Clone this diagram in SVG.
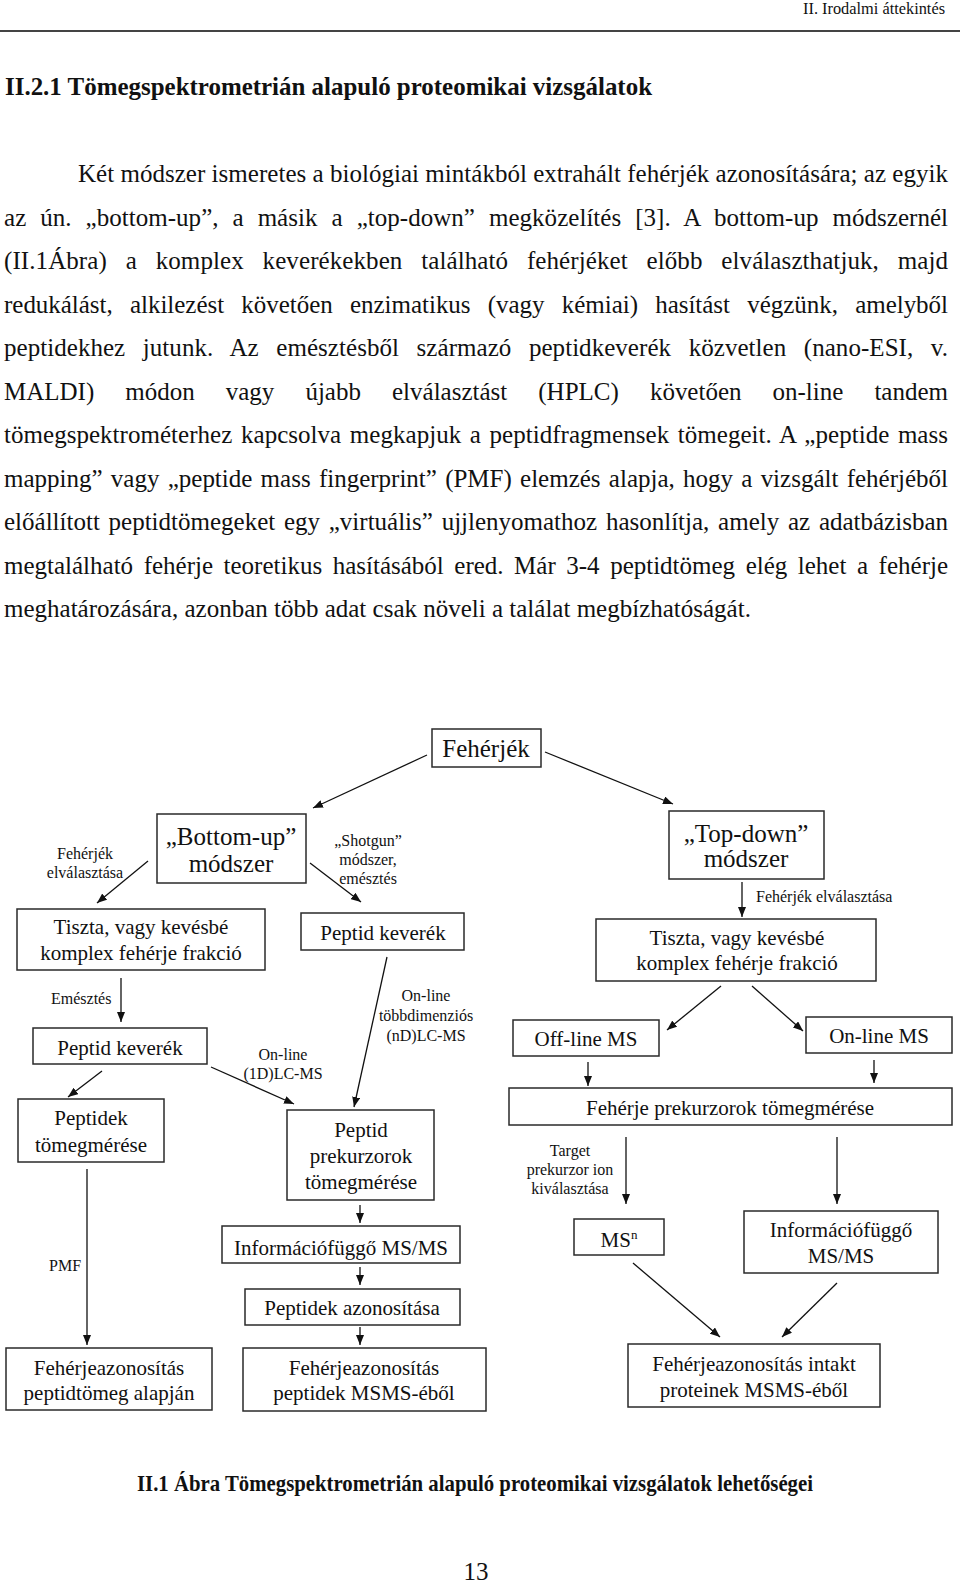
<svg xmlns="http://www.w3.org/2000/svg" width="960" height="1585" viewBox="0 0 960 1585">
<defs>
<style>
text{font-family:"Liberation Serif","Times New Roman",serif;fill:#111}
.body{font-size:25px}
.bx rect{fill:#fff;stroke:#2a2a2a;stroke-width:1.5}
.bx text{font-size:21px;text-anchor:middle}
.big text{font-size:25px}
.lbl{font-size:16px;text-anchor:middle}
.lbs{font-size:16px}
#conn line{stroke:#111;stroke-width:1.3;marker-end:url(#ah)}
</style>
<marker id="ah" viewBox="0 0 10 8" refX="10" refY="4" markerWidth="10" markerHeight="8" markerUnits="userSpaceOnUse" orient="auto"><path d="M0,0 L10,4 L0,8 z" fill="#111"/></marker>
</defs>
<rect width="960" height="1585" fill="#fff"/>
<g id="header">
<text x="945" y="14" font-size="17" text-anchor="end" textLength="142" lengthAdjust="spacingAndGlyphs">II. Irodalmi áttekintés</text>
<line x1="0" y1="31" x2="960" y2="31" stroke="#444" stroke-width="2"/>
<text x="5" y="95" font-size="26" font-weight="bold" textLength="647" lengthAdjust="spacingAndGlyphs">II.2.1 Tömegspektrometrián alapuló proteomikai vizsgálatok</text>
</g>
<g id="paragraph">
<text class="body" x="78" y="182" textLength="870" lengthAdjust="spacing">Két módszer ismeretes a biológiai mintákból extrahált fehérjék azonosítására; az egyik</text>
<text class="body" x="4" y="225.5" word-spacing="7.7" textLength="944" lengthAdjust="spacing">az ún. „bottom-up”, a másik a „top-down” megközelítés [3]. A bottom-up módszernél</text>
<text class="body" x="4" y="269" word-spacing="12.5" textLength="944" lengthAdjust="spacing">(II.1Ábra) a komplex keverékekben található fehérjéket előbb elválaszthatjuk, majd</text>
<text class="body" x="4" y="312.5" word-spacing="11" textLength="944" lengthAdjust="spacing">redukálást, alkilezést követően enzimatikus (vagy kémiai) hasítást végzünk, amelyből</text>
<text class="body" x="4" y="356" word-spacing="11.3" textLength="944" lengthAdjust="spacing">peptidekhez jutunk. Az emésztésből származó peptidkeverék közvetlen (nano-ESI, v.</text>
<text class="body" x="4" y="399.5" word-spacing="24.8" textLength="944" lengthAdjust="spacing">MALDI) módon vagy újabb elválasztást (HPLC) követően on-line tandem</text>
<text class="body" x="4" y="443" word-spacing="2.3" textLength="944" lengthAdjust="spacing">tömegspektrométerhez kapcsolva megkapjuk a peptidfragmensek tömegeit. A „peptide mass</text>
<text class="body" x="4" y="486.5" word-spacing="2" textLength="944" lengthAdjust="spacing">mapping” vagy „peptide mass fingerprint” (PMF) elemzés alapja, hogy a vizsgált fehérjéből</text>
<text class="body" x="4" y="530" word-spacing="2.5" textLength="944" lengthAdjust="spacing">előállított peptidtömegeket egy „virtuális” ujjlenyomathoz hasonlítja, amely az adatbázisban</text>
<text class="body" x="4" y="573.5" word-spacing="4.3" textLength="944" lengthAdjust="spacing">megtalálható fehérje teoretikus hasításából ered. Már 3-4 peptidtömeg elég lehet a fehérje</text>
<text class="body" x="4" y="617">meghatározására, azonban több adat csak növeli a találat megbízhatóságát.</text>
</g>
<g id="conn">
<line x1="427" y1="755" x2="313" y2="808"/>
<line x1="545" y1="752" x2="673" y2="804"/>
<line x1="148" y1="861" x2="97" y2="903"/>
<line x1="310" y1="863" x2="361" y2="902"/>
<line x1="742" y1="882" x2="742" y2="917"/>
<line x1="121" y1="978" x2="121" y2="1022"/>
<line x1="102" y1="1071" x2="68" y2="1097"/>
<line x1="211" y1="1067" x2="294" y2="1104"/>
<line x1="387" y1="957" x2="354" y2="1107"/>
<line x1="87" y1="1169" x2="87" y2="1345"/>
<line x1="360" y1="1205" x2="360" y2="1223"/>
<line x1="360" y1="1267" x2="360" y2="1285"/>
<line x1="360" y1="1327" x2="360" y2="1345"/>
<line x1="721" y1="986" x2="667" y2="1030"/>
<line x1="752" y1="986" x2="803" y2="1031"/>
<line x1="588" y1="1062" x2="588" y2="1086"/>
<line x1="874" y1="1060" x2="874" y2="1083"/>
<line x1="626" y1="1137" x2="626" y2="1204"/>
<line x1="837" y1="1137" x2="837" y2="1204"/>
<line x1="633" y1="1263" x2="720" y2="1337"/>
<line x1="837" y1="1283" x2="782" y2="1337"/>
</g>
<g id="labels">
<text class="lbl" x="85" y="859">Fehérjék</text>
<text class="lbl" x="85" y="878">elválasztása</text>
<text class="lbl" x="368" y="846">„Shotgun”</text>
<text class="lbl" x="368" y="865">módszer,</text>
<text class="lbl" x="368" y="884">emésztés</text>
<text class="lbs" x="756" y="902">Fehérjék elválasztása</text>
<text class="lbs" x="51" y="1004">Emésztés</text>
<text class="lbl" x="283" y="1060">On-line</text>
<text class="lbl" x="283" y="1079">(1D)LC-MS</text>
<text class="lbl" x="426" y="1001">On-line</text>
<text class="lbl" x="426" y="1021">többdimenziós</text>
<text class="lbl" x="426" y="1041">(nD)LC-MS</text>
<text class="lbs" x="49" y="1271">PMF</text>
<text class="lbl" x="570" y="1156">Target</text>
<text class="lbl" x="570" y="1175">prekurzor ion</text>
<text class="lbl" x="570" y="1194">kiválasztása</text>
</g>
<g id="n-feherjek" class="bx big"><rect x="432" y="729" width="109" height="38"/><text x="486" y="757">Fehérjék</text></g>
<g id="n-bottomup" class="bx big"><rect x="157" y="814" width="149" height="69"/><text x="231" y="845">„Bottom-up”</text><text x="231" y="872">módszer</text></g>
<g id="n-topdown" class="bx big"><rect x="669" y="811" width="155" height="68"/><text x="746" y="842">„Top-down”</text><text x="746" y="867">módszer</text></g>
<g id="n-tiszta-l" class="bx"><rect x="17" y="909" width="248" height="61"/><text x="141" y="934">Tiszta, vagy kevésbé</text><text x="141" y="960">komplex fehérje frakció</text></g>
<g id="n-peptidkev1" class="bx"><rect x="301" y="913" width="163" height="37"/><text x="383" y="940">Peptid keverék</text></g>
<g id="n-tiszta-r" class="bx"><rect x="596" y="919" width="280" height="62"/><text x="737" y="945">Tiszta, vagy kevésbé</text><text x="737" y="970">komplex fehérje frakció</text></g>
<g id="n-peptidkev2" class="bx"><rect x="33" y="1028" width="174" height="36"/><text x="120" y="1055">Peptid keverék</text></g>
<g id="n-peptidektom" class="bx"><rect x="18" y="1099" width="146" height="63"/><text x="91" y="1125">Peptidek</text><text x="91" y="1152">tömegmérése</text></g>
<g id="n-prekurzor" class="bx"><rect x="287" y="1110" width="147" height="90"/><text x="361" y="1137">Peptid</text><text x="361" y="1163">prekurzorok</text><text x="361" y="1189">tömegmérése</text></g>
<g id="n-info-l" class="bx"><rect x="222" y="1226" width="238" height="37"/><text x="341" y="1255">Információfüggő MS/MS</text></g>
<g id="n-pepazon" class="bx"><rect x="245" y="1289" width="215" height="36"/><text x="352" y="1315">Peptidek azonosítása</text></g>
<g id="n-fa-msms" class="bx"><rect x="243" y="1348" width="243" height="63"/><text x="364" y="1375">Fehérjeazonosítás</text><text x="364" y="1400">peptidek MSMS-éből</text></g>
<g id="n-fa-pt" class="bx"><rect x="6" y="1348" width="206" height="62"/><text x="109" y="1375">Fehérjeazonosítás</text><text x="109" y="1400">peptidtömeg alapján</text></g>
<g id="n-offline" class="bx"><rect x="513" y="1020" width="146" height="36"/><text x="586" y="1046">Off-line MS</text></g>
<g id="n-online" class="bx"><rect x="806" y="1017" width="146" height="36"/><text x="879" y="1043">On-line MS</text></g>
<g id="n-fprek" class="bx"><rect x="509" y="1088" width="443" height="37"/><text x="730" y="1115">Fehérje prekurzorok tömegmérése</text></g>
<g id="n-msn" class="bx"><rect x="574" y="1219" width="90" height="36"/><text x="619" y="1247">MS<tspan font-size="13" dy="-8">n</tspan></text></g>
<g id="n-info-r" class="bx"><rect x="744" y="1211" width="194" height="62"/><text x="841" y="1237">Információfüggő</text><text x="841" y="1263">MS/MS</text></g>
<g id="n-fa-intakt" class="bx"><rect x="628" y="1344" width="252" height="63"/><text x="754" y="1371">Fehérjeazonosítás intakt</text><text x="754" y="1397">proteinek MSMS-éből</text></g>
<g id="caption">
<text x="137" y="1491" font-size="23" font-weight="bold" textLength="676" lengthAdjust="spacingAndGlyphs">II.1 Ábra Tömegspektrometrián alapuló proteomikai vizsgálatok lehetőségei</text>
<text x="476" y="1580" font-size="25" text-anchor="middle">13</text>
</g>
</svg>
